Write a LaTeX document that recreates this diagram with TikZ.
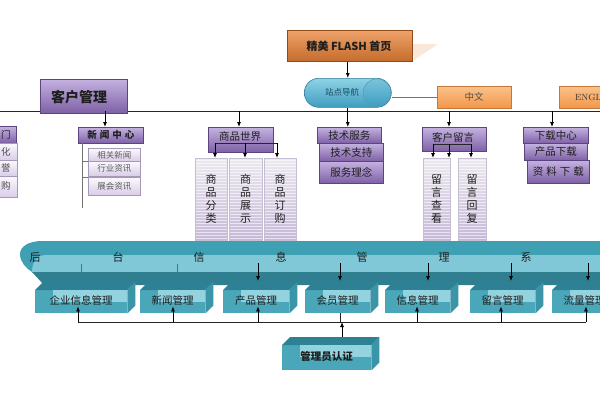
\documentclass[tikz,border=0pt]{standalone}
\usepackage{fontspec}
\newfontfamily\cjk{Noto Sans CJK SC}
\usetikzlibrary{arrows.meta,calc,shadows}
\definecolor{purA}{HTML}{C4B2E0}
\definecolor{purB}{HTML}{7E60A6}
\definecolor{purD}{HTML}{5B4480}
\definecolor{lavA}{HTML}{FBF9FD}
\definecolor{lavB}{HTML}{D9CCE8}
\definecolor{colA}{HTML}{ECE9EF}
\definecolor{colB}{HTML}{C6B8D8}
\definecolor{orA}{HTML}{EFA26A}
\definecolor{orB}{HTML}{C46C2C}
\definecolor{orD}{HTML}{8E4A18}
\definecolor{lorA}{HTML}{FBC28A}
\definecolor{lorB}{HTML}{F2964A}
\definecolor{pilA}{HTML}{8ED3E6}
\definecolor{pilB}{HTML}{3F9DBF}
\definecolor{pilD}{HTML}{2F7E9E}
\definecolor{tMid}{HTML}{3F9FB3}
\definecolor{tLight}{HTML}{80C7D7}
\definecolor{tDark}{HTML}{2F7F91}
\definecolor{tFront}{HTML}{4AA6B9}
\definecolor{tInner}{HTML}{93D2DF}
\definecolor{tTop}{HTML}{2E8194}
\definecolor{tSide}{HTML}{3A95A8}
\definecolor{ink}{HTML}{1E1E1E}
\tikzset{
  pbox/.style={draw=purD, line width=.6pt, top color=purA, bottom color=purB, inner sep=0pt,
    anchor=north west, font=\cjk\fontsize{10.5}{12}\selectfont, text=ink,
    drop shadow={shadow xshift=1pt, shadow yshift=-1pt, opacity=.35}},
  lbox/.style={draw=purD!55, line width=.5pt, top color=lavA, bottom color=lavB, inner sep=0pt,
    anchor=north west, font=\cjk\fontsize{8.5}{10}\selectfont, text=black!65},
  colbox/.style={draw=purD!35, line width=.4pt, top color=colA, bottom color=colB, inner sep=0pt,
    anchor=north west, minimum height=82pt, align=center, text=ink,
    font=\cjk\fontsize{11}{13}\selectfont,
    path picture={\foreach \k in {2,5,...,80}{\draw[white,opacity=.6,line width=.5pt]
      ([yshift=-\k pt]path picture bounding box.north west) -- ([yshift=-\k pt]path picture bounding box.north east);}}},
  obox/.style={draw=orD, line width=.6pt, top color=orA, bottom color=orB, inner sep=0pt, anchor=north west},
  lobox/.style={draw=lorB!80!black, line width=.4pt, top color=lorA, bottom color=lorB, inner sep=0pt, anchor=north west,
    minimum height=22pt, minimum width=74pt},
  lbl/.style={inner sep=0pt, font=\cjk\fontsize{10.5}{12}\selectfont, text=ink},
  bandtxt/.style={inner sep=0pt, font=\cjk\fontsize{11}{12}\selectfont, text=ink},
  tdfront/.style={fill=tFront, inner sep=0pt},
  tdlabel/.style={inner sep=0pt, font=\cjk\fontsize{10.5}{12}\selectfont, text=ink},
  arr/.style={-{Latex[length=5pt,width=4pt]}, line width=.8pt, black},
  ln/.style={line width=.8pt, black!85},
  thinln/.style={line width=.6pt, black!55}
}
\newcommand\tdbox[6]{%
  \node[tdfront, minimum width=#4pt, minimum height=#5pt, anchor=north west] (#1) at (#2,#3) {};
  \fill[tTop] (#1.north west) -- ++(8,-8) -- ([shift={(8,-8)}]#1.north east) -- (#1.north east) -- cycle;
  \fill[tSide] (#1.north east) -- ([shift={(8,-8)}]#1.north east) -- ([shift={(8,-8)}]#1.south east) -- (#1.south east) -- cycle;
  \fill[tInner] ([xshift=18pt]#1.north west) rectangle ([yshift=#5pt-12pt]#1.south east);
  \node[tdlabel] (#1t) at ([yshift=1pt]#1.center) {#6};
}
\begin{document}
\begin{tikzpicture}[x=1pt,y=-1pt]
\path[use as bounding box] (0,0) rectangle (600,400);
\clip (0,0) rectangle (600,400);
\fill[white] (0,0) rectangle (600,400);

% ---------- top ----------
\fill[orA, opacity=.25] (412,44) -- (438,44) -- (414,60) -- cycle;
\node[obox, minimum width=125pt, minimum height=31pt] (flash) at (287,30) {};
\node[lbl, font=\cjk\bfseries\fontsize{11}{12}\selectfont] (flasht) at (349,46) {精美 FLASH 首页};

\node[draw=pilD, line width=.6pt, top color=pilA, bottom color=pilB, rounded corners=14.5pt,
  minimum width=87pt, minimum height=29pt, inner sep=0pt, anchor=north west] (nav) at (304,78) {};
\draw[pilD!80, line width=.5pt, fill=pilB, fill opacity=.25] ([xshift=-14.5pt]nav.east) circle (14pt);
\node[lbl, font=\cjk\fontsize{8.5}{10}\selectfont, text=pilD!60!black] (navt) at (342,92) {站点导航};

\node[lobox] (zh) at (437,86) {};
\node[lbl, font=\cjk\fontsize{9.5}{11}\selectfont, text=black!70] (zht) at (474,97) {中文};
\node[lobox] (en) at (559,86) {};
\node[inner sep=0pt, font=\fontsize{9}{10}\selectfont, text=black!80] (ent) at (596,97) {ENGLISH};
\draw[thinln] (zh.west) -- (zh.west -| nav.east);

\draw[arr] (nav.north |- flash.south) -- (nav.north);

% main line
\coordinate (mL) at (0,111);
\coordinate (mR) at (600,111);
\draw[ln] (mL) -- (mR);

\node[pbox, minimum width=87pt, minimum height=34pt] (kh) at (40,79) {};
\node[lbl, font=\cjk\bfseries\fontsize{14}{16}\selectfont] (kht) at (79,97) {客户管理};

% ---------- left partial ----------
\node[pbox, minimum width=56pt, minimum height=17pt] (lp0) at (-40,126) {};
\node[lbl, font=\cjk\fontsize{9.5}{11}\selectfont] (lp0t) at (6,135) {门};
\node[lbl, font=\cjk\fontsize{9.5}{11}\selectfont, text=black!70] at (0,0) {};
\node[lbox, minimum width=57pt, minimum height=17pt] (lp1) at (-40,143) {};
\node[lbl, font=\cjk\fontsize{9.5}{11}\selectfont, text=black!70] (lp1t) at (6,152) {化};
\node[lbox, minimum width=57pt, minimum height=16pt] (lp2) at (-40,160) {};
\node[lbl, font=\cjk\fontsize{9.5}{11}\selectfont, text=black!70] (lp2t) at (6,168) {誉};
\node[lbox, minimum width=57pt, minimum height=21pt] (lp3) at (-40,176) {};
\node[lbl, font=\cjk\fontsize{9.5}{11}\selectfont, text=black!70] (lp3t) at (6,186) {购};

% ---------- news ----------
\node[pbox, minimum width=65pt, minimum height=16pt, font=\cjk\bfseries\fontsize{9.5}{11}\selectfont] (news) at (78,127) {新\hspace{3pt}闻\hspace{3pt}中\hspace{3pt}心};
\node[lbox, minimum width=52pt, minimum height=13pt] (n1) at (88,148) {相关新闻};
\node[lbox, minimum width=52pt, minimum height=15pt] (n2) at (88,161) {行业资讯};
\node[lbox, minimum width=52pt, minimum height=18pt] (n3) at (88,177) {展会资讯};
\coordinate (nv0) at (82,143);
\coordinate (nv1) at (82,208);
\draw[thinln] (nv0) -- (nv1);
\draw[thinln] (nv0 |- n2.north west) -- (n2.north west);
\draw[thinln] (nv0 |- n3.north west) -- (n3.north west);

% ---------- shop ----------
\node[pbox, minimum width=65pt, minimum height=25pt] (shop) at (208,127) {};
\node[lbl] (shopt) at (240,137) {商品世界};
\coordinate (s0) at (215,143);
\coordinate (sm) at (245,143);
\coordinate (s1) at (277,143);
\node[colbox, minimum width=32pt] (c1) at (195,158) {商\\品\\分\\类};
\node[colbox, minimum width=33pt] (c2) at (229,158) {商\\品\\展\\示};
\node[colbox, minimum width=32pt] (c3) at (264,158) {商\\品\\订\\购};
\draw[ln] (s0) -- (s1);
\draw[arr] (s0) -- (s0 |- c1.north);
\draw[arr] (sm) -- (sm |- c2.north);
\draw[arr] (s1) -- (s1 |- c3.north);

% ---------- tech ----------
\node[pbox, minimum width=64pt, minimum height=16pt] (tech) at (317,127) {技术服务};
\node[pbox, minimum width=64pt, minimum height=18pt] (tech2) at (319,143) {技术支持};
\node[pbox, minimum width=64pt, minimum height=22pt] (tech3) at (319,161) {服务理念};

% ---------- message ----------
\node[pbox, minimum width=64pt, minimum height=24pt] (msg) at (422,127) {};
\node[lbl] (msgt) at (453,137) {客户留言};
\coordinate (g0) at (433,144);
\coordinate (gm) at (449,144);
\coordinate (g1) at (471,144);
\node[colbox, minimum width=27pt] (m1) at (423,158) {留\\言\\查\\看};
\node[colbox, minimum width=28pt] (m2) at (458,158) {留\\言\\回\\复};
\draw[ln] (g0) -- (g1);
\draw[arr] (g0) -- (g0 |- m1.north);
\draw[arr] (gm) -- (gm |- m1.north);
\draw[arr] (g1) -- (g1 |- m2.north);

% ---------- download ----------
\node[pbox, minimum width=65pt, minimum height=16pt] (dl) at (523,127) {下载中心};
\node[pbox, minimum width=63pt, minimum height=17pt] (dl2) at (524,143) {产品下载};
\node[pbox, minimum width=62pt, minimum height=23pt] (dl3) at (527,160) {资\hspace{3pt}料\hspace{3pt}下\hspace{3pt}载};

% arrows from main line
\coordinate (t1) at (105,111);
\coordinate (t2) at (239,111);
\coordinate (t4) at (449,111);
\coordinate (t5) at (552,111);
\draw[arr] (t1) -- (t1 |- news.north);
\draw[arr] (t2) -- (t2 |- shop.north);
\draw[arr] (nav.south) -- (nav.south |- tech.north);
\draw[arr] (t4) -- (t4 |- msg.north);
\draw[arr] (t5) -- (t5 |- dl.north);

% ---------- band ----------
\fill[tMid] (610,241) -- (42,241) .. controls (28,241) and (20,247) .. (20,254)
  .. controls (20,262) and (26,268) .. (32,272) -- (610,272) -- cycle;
\fill[tLight] (610,255) -- (46,255) .. controls (37,255) and (32,262) .. (32,272) -- (610,272) -- cycle;
\fill[tDark] (32,272) -- (44,285) -- (610,285) -- (610,272) -- cycle;
\node[bandtxt] (bt1) at (35,257) {后};
\node[bandtxt] (bt2) at (118,257) {台};
\node[bandtxt] (bt3) at (199,257) {信};
\node[bandtxt] (bt4) at (281,257) {息};
\node[bandtxt] (bt5) at (362,257) {管};
\node[bandtxt] (bt6) at (444,257) {理};
\node[bandtxt] (bt7) at (526,257) {系};
\coordinate (k1) at (81,264);
\coordinate (k2) at (177,264);
\draw[tDark, line width=.6pt] (k1) -- ++(0,9);
\draw[tDark, line width=.6pt] (k2) -- ++(0,9);

% ---------- 3D boxes ----------
\tdbox{b1}{35}{290}{92}{23}{企业信息管理}
\tdbox{b2}{140}{290}{65}{23}{新闻管理}
\tdbox{b3}{223}{290}{66}{23}{产品管理}
\tdbox{b4}{305}{290}{65}{23}{会员管理}
\tdbox{b5}{385}{290}{65}{23}{信息管理}
\tdbox{b6}{470}{290}{65}{23}{留言管理}
\tdbox{b7}{552}{290}{65}{23}{流量管理}
\tdbox{adm}{282}{345}{89}{25}{\bfseries 管理员认证}

\coordinate (d1) at (258,263);
\coordinate (d2) at (340,263);
\coordinate (d3) at (428,263);
\coordinate (d4) at (511,263);
\coordinate (d5) at (588,263);
\draw[arr] (d1) -- ($(d1 |- b3.north)+(0,-9)$);
\draw[arr] (d2) -- ($(d2 |- b4.north)+(0,-9)$);
\draw[arr] (d3) -- ($(d3 |- b5.north)+(0,-9)$);
\draw[arr] (d4) -- ($(d4 |- b6.north)+(0,-9)$);
\draw[arr] (d5) -- ($(d5 |- b7.north)+(0,-9)$);

% bus
\coordinate (u1) at (78,322);
\coordinate (u2) at (173,322);
\coordinate (u3) at (258,322);
\coordinate (u4) at (340,322);
\coordinate (ua) at (342,322);
\coordinate (u5) at (417,322);
\coordinate (u6) at (501,322);
\coordinate (u7) at (586,322);
\draw[ln] (u1) -- (u7);
\draw[arr] (u1) -- ($(u1 |- b1.south)+(0,-7)$);
\draw[arr] (u2) -- ($(u2 |- b2.south)+(0,-7)$);
\draw[arr] (u3) -- ($(u3 |- b3.south)+(0,-7)$);
\draw[ln] (u4) -- (u4 |- b4.south);
\draw[arr] (u5) -- ($(u5 |- b5.south)+(0,-7)$);
\draw[arr] (u6) -- ($(u6 |- b6.south)+(0,-7)$);
\draw[arr] (u7) -- ($(u7 |- b7.south)+(0,-7)$);
\draw[arr] ($(ua |- adm.north)+(0,-8)$) -- (ua);
\end{tikzpicture}
\end{document}
